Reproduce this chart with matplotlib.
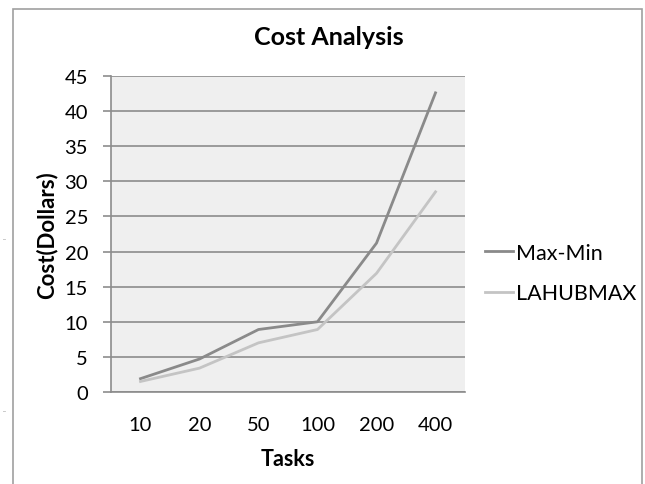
import matplotlib
matplotlib.use("Agg")
import matplotlib.pyplot as plt
from matplotlib.patches import Rectangle

categories = ["10", "20", "50", "100", "200", "400"]
max_min = [1.9, 4.7, 8.9, 10.0, 21.2, 42.6]
lahubmax = [1.5, 3.4, 7.0, 8.9, 16.9, 28.5]
y_ticks = [0, 5, 10, 15, 20, 25, 30, 35, 40, 45]

plt.rcParams['font.family'] = ['Lato', 'DejaVu Sans']

W, H = 645, 485
fig = plt.figure(figsize=(W / 100, H / 100), dpi=100)
fig.patch.set_facecolor("white")
# outer chart border
fig.patches.append(Rectangle((13 / W, -0.01), (642 - 13) / W, 1 - 10 / H + 0.01,
                             transform=fig.transFigure, fill=False,
                             edgecolor="#a0a0a0", linewidth=1.2))
fig.text(3 / W, 1 - 237 / H, "..", fontsize=6, color="#808080", va="center")
fig.text(3 / W, 1 - 410 / H, "..", fontsize=6, color="#808080", va="center")

ax = fig.add_axes([111 / W, 92 / H, 354 / W, 316 / H])
ax.set_facecolor("#efefef")
x = list(range(len(categories)))
ax.plot(x, max_min, color="#8a8a8a", linewidth=2, label="Max-Min", zorder=3)
ax.plot(x, lahubmax, color="#c4c4c4", linewidth=2, label="LAHUBMAX", zorder=3)

ax.set_xlim(-0.5, len(categories) - 0.5)
ax.set_ylim(0, 45)
ax.set_yticks(y_ticks)
ax.set_xticks(x)
ax.set_xticklabels(categories)
ax.yaxis.grid(True, color="#8c8c8c", linewidth=1.2)
ax.set_axisbelow(True)
for s in ["top", "right"]:
    ax.spines[s].set_visible(False)
for s in ["left", "bottom"]:
    ax.spines[s].set_color("#8c8c8c")
    ax.spines[s].set_linewidth(1.2)
ax.tick_params(axis="y", length=6, width=1.2, color="#8c8c8c", labelsize=14.5, pad=10.5)
ax.tick_params(axis="x", length=0, labelsize=14.5, pad=17)

fig.text(329 / W, 1 - 38 / H, "Cost Analysis", fontsize=18, fontweight="bold",
         ha="center", va="center")
ax.set_xlabel("Tasks", fontsize=15.5, fontweight="bold")
ax.xaxis.set_label_coords(0.5, (393 - 460) / 316)
ax.xaxis.label.set_va("center")
ax.set_ylabel("Cost(Dollars)", fontsize=16, fontweight="bold")
ax.yaxis.set_label_coords((47 - 111) / 354, 0.5)
ax.yaxis.label.set_va("center")

leg = ax.legend(loc="center left", bbox_to_anchor=(485 / W, 1 - 274 / H),
                bbox_transform=fig.transFigure, frameon=False,
                fontsize=15.5, handlelength=1.3, handletextpad=0.12,
                labelspacing=0.95, borderpad=0, borderaxespad=0)

fig.savefig("out.png", dpi=100)
